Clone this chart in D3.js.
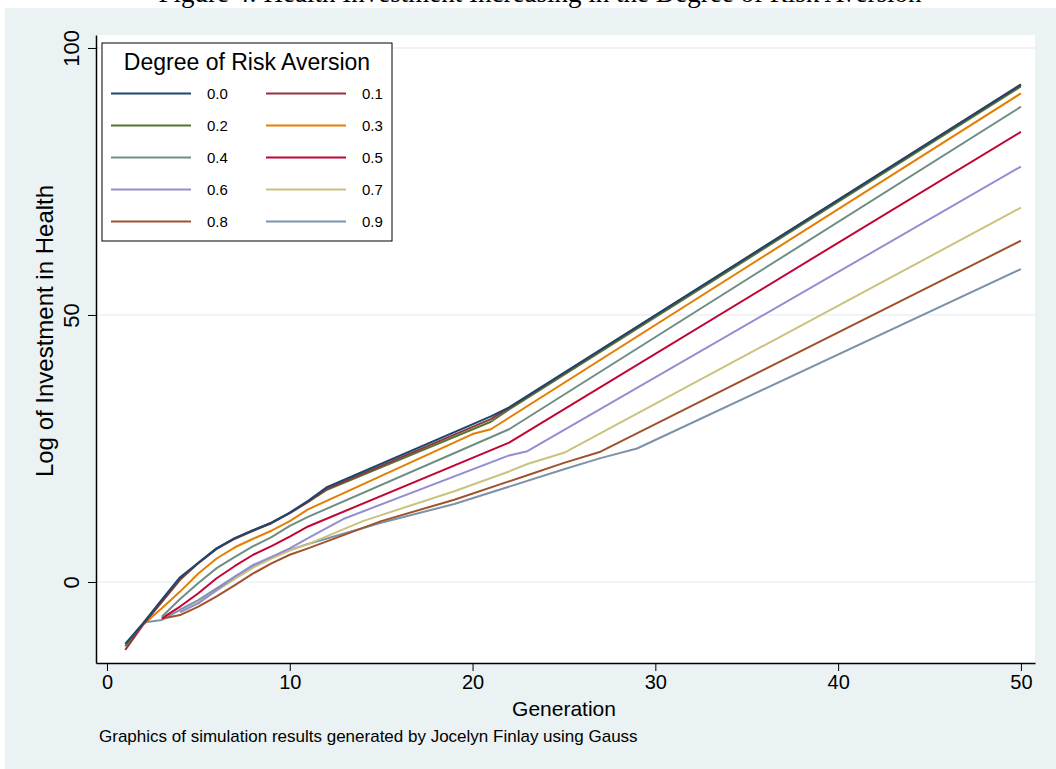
<!DOCTYPE html>
<html>
<head>
<meta charset="utf-8">
<script src="https://cdn.jsdelivr.net/npm/d3@7/dist/d3.min.js"></script>
<style>
  body { margin: 0; background: #fff; }
  text { font-family: "Liberation Sans", Arial, sans-serif; }
</style>
</head>
<body>
<svg width="1056" height="769"></svg>
<script>
// Log of investment in health by generation, one line per degree of risk aversion
var levels = ["0.0", "0.1", "0.2", "0.3", "0.4", "0.5", "0.6", "0.7", "0.8", "0.9"];
var colors = ["#1a476f", "#90353b", "#55752f", "#e37e00", "#6e8e84",
              "#c10534", "#938dd2", "#cac27e", "#a0522d", "#7b92a8"];

// [generation, value]
var risk00 = [[1,-11.6],[2,-7.6],[3,-3.3],[4,0.9],[5,3.6],[6,6.3],[7,8.2],[8,9.7],[9,11.1],[10,13.0],[11,15.2],[12,17.7],[21,31.0],[22,32.7],[50,93.1]];
var risk01 = [[1,-12.7],[2,-7.9],[3,-3.7],[4,0.5],[5,3.5],[6,6.2],[7,8.1],[8,9.6],[9,11.0],[10,12.9],[11,15.0],[12,17.4],[21,30.5],[22,32.6],[50,93.2]];
var risk02 = [[1,-12.0],[2,-7.8],[3,-3.7],[4,0.4],[5,3.6],[6,6.3],[7,8.2],[8,9.7],[9,11.1],[10,12.9],[11,15.0],[12,17.2],[21,30.0],[22,32.3],[50,92.8]];
var risk03 = [[2,-7.9],[3,-4.9],[4,-1.8],[5,1.6],[6,4.4],[7,6.5],[8,8.1],[9,9.6],[10,11.4],[11,13.6],[20,27.7],[21,28.6],[50,91.5]];
var risk04 = [[3,-6.5],[4,-3.2],[5,-0.2],[6,2.6],[7,4.7],[8,6.7],[9,8.4],[10,10.5],[11,12.2],[22,28.6],[50,89.0]];
var risk05 = [[3,-6.8],[4,-4.6],[5,-2.1],[6,0.7],[7,3.0],[8,5.1],[9,6.7],[10,8.5],[11,10.4],[22,26.1],[50,84.3]];
var risk06 = [[4,-5.6],[5,-4.0],[6,-1.5],[7,1.0],[8,3.2],[9,4.7],[10,6.3],[11,8.2],[13,11.9],[22,23.7],[23,24.5],[50,77.8]];
var risk07 = [[4,-5.8],[5,-3.8],[6,-1.6],[7,0.6],[8,2.7],[9,4.4],[10,5.9],[11,7.1],[14,11.4],[19,17.0],[22,20.7],[23,22.1],[25,24.2],[50,70.1]];
var risk08 = [[3,-6.9],[4,-6.2],[5,-4.6],[6,-2.7],[7,-0.6],[8,1.6],[9,3.5],[10,5.1],[11,6.3],[15,11.4],[19,15.4],[23,20.0],[25,22.3],[27,24.4],[50,63.9]];
var risk09 = [[2,-7.6],[3,-7.1],[4,-5.2],[5,-3.4],[6,-1.2],[7,1.0],[8,3.0],[9,4.6],[10,6.0],[11,7.1],[15,11.1],[19,14.6],[25,21.1],[27,23.2],[29,25.0],[50,58.6]];

var series = [risk00, risk01, risk02, risk03, risk04, risk05, risk06, risk07, risk08, risk09];

var xTicks = [0, 10, 20, 30, 40, 50];
var yTicks = [0, 50, 100];

var svg = d3.select("svg");

// page background (graph region)
svg.append("rect").attr("x", 5).attr("y", 8).attr("width", 1051).attr("height", 761).attr("fill", "#eaf2f3");

// heading of the page above, only its lower edge shows
svg.append("text")
   .attr("x", 540).attr("y", 2)
   .attr("text-anchor", "middle")
   .style("font-family", "'Liberation Serif', serif")
   .style("font-size", "27px")
   .text("Figure 4: Health Investment Increasing in the Degree of Risk Aversion");

var x = d3.scaleLinear().domain([-0.6, 50.77]).range([96, 1035]);
var y = d3.scaleLinear().domain([-15.17, 102.43]).range([663, 35]);

// plot region
svg.append("rect")
   .attr("x", x.range()[0]).attr("y", y.range()[1])
   .attr("width", x.range()[1] - x.range()[0])
   .attr("height", y.range()[0] - y.range()[1])
   .attr("fill", "#fff");

// gridlines
svg.append("g").selectAll("line")
   .data(yTicks)
   .enter().append("line")
     .attr("x1", 96).attr("x2", 1035)
     .attr("y1", function(d) { return y(d); })
     .attr("y2", function(d) { return y(d); })
     .attr("stroke", "#eaf2f3").attr("stroke-width", 1.5);

var line = d3.line()
             .x(function(d) { return x(d[0]); })
             .y(function(d) { return y(d[1]); });

// draw last series first so 0.0 sits on top
svg.append("g").selectAll("path")
   .data(series.map(function(s, i) { return { pts: s, i: i }; }).reverse())
   .enter().append("path")
     .attr("d", function(d) { return line(d.pts); })
     .attr("fill", "none")
     .attr("stroke", function(d) { return colors[d.i]; })
     .attr("stroke-width", 2)
     .attr("stroke-linejoin", "round");

// axes
var xAxis = svg.append("g")
   .attr("transform", "translate(0,663)")
   .call(d3.axisBottom(x).tickValues(xTicks).tickSize(8).tickPadding(4).tickSizeOuter(0));
xAxis.select(".domain").attr("stroke", "#000").attr("stroke-width", 1.5);
xAxis.selectAll(".tick line").attr("stroke", "#000");
xAxis.selectAll(".tick text").style("font-size", "20px").attr("fill", "#000");

var yAxis = svg.append("g")
   .attr("transform", "translate(96,0)")
   .call(d3.axisLeft(y).tickValues(yTicks).tickSize(8).tickSizeOuter(0));
yAxis.select(".domain").attr("stroke", "#000").attr("stroke-width", 1.5);
yAxis.selectAll(".tick line").attr("stroke", "#000");
yAxis.selectAll(".tick text")
     .attr("x", null).attr("dy", null)
     .attr("text-anchor", "middle")
     .attr("transform", "translate(-25,0) rotate(-90)")
     .attr("dy", "0.35em")
     .style("font-size", "22px").attr("fill", "#000");

// axis titles
svg.append("text")
   .attr("x", 564).attr("y", 716)
   .attr("text-anchor", "middle")
   .style("font-size", "21px")
   .text("Generation");

svg.append("text")
   .attr("transform", "translate(45,331) rotate(-90)")
   .attr("text-anchor", "middle")
   .attr("dy", "0.35em")
   .style("font-size", "24px")
   .text("Log of Investment in Health");

svg.append("text")
   .attr("x", 99).attr("y", 742)
   .style("font-size", "17px")
   .text("Graphics of simulation results generated by Jocelyn Finlay using Gauss");

// legend
var legend = svg.append("g");
legend.append("rect")
      .attr("x", 102).attr("y", 43).attr("width", 290).attr("height", 198)
      .attr("fill", "#fff").attr("stroke", "#000").attr("stroke-width", 1);
legend.append("text")
      .attr("x", 247).attr("y", 70)
      .attr("text-anchor", "middle")
      .style("font-size", "23px")
      .text("Degree of Risk Aversion");

var item = legend.selectAll(".item")
      .data(levels)
      .enter().append("g")
        .attr("class", "item")
        .attr("transform", function(d, i) {
          return "translate(" + (i % 2 === 0 ? 111 : 266) + "," + (93.5 + Math.floor(i / 2) * 32) + ")";
        });
item.append("line")
    .attr("x1", 0).attr("x2", 80)
    .attr("stroke", function(d, i) { return colors[i]; })
    .attr("stroke-width", 2);
item.append("text")
    .attr("x", 96).attr("dy", "0.35em")
    .style("font-size", "15px")
    .text(function(d) { return d; });
</script>
</body>
</html>
